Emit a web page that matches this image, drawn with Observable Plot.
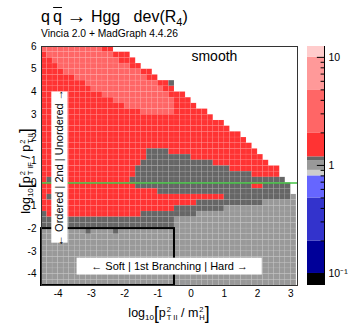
<!DOCTYPE html>
<html><head><meta charset="utf-8">
<script src="https://cdn.jsdelivr.net/npm/d3@7"></script>
<script src="https://cdn.jsdelivr.net/npm/@observablehq/plot@0.6"></script>
<style>
body{margin:0;background:#fff}
#wrap{position:relative;width:349px;height:328px;overflow:hidden;font-family:"Liberation Sans",Arial,Helvetica,sans-serif;color:#000;background:#fff}
#wrap svg{position:absolute;left:0;top:0}
.lbl{position:absolute;white-space:nowrap;line-height:1}
.ss{display:inline-flex;flex-direction:column;vertical-align:middle;font-size:0.6em;line-height:1.05;margin-left:1px;text-align:left}
.br{font-size:1.4em;vertical-align:-0.12em}
</style></head><body><div id="wrap"></div>
<script>
const FONT = '"Liberation Sans", Arial, Helvetica, sans-serif';

// histogram binning (data units)
const binX0 = -4.5, binDX = 1/6;   // x = log10(pT^2 / mH^2)
const binY0 = 6, binDY = 0.25;     // y = log10(pT_IF^2 / pT_II^2), rows from top
// colour-band code of every bin, run-length encoded, one string per y-row (top -> bottom)
const rowsRLE = [
  "P11R2.33", "R1P12R3.30", "R2P12R3.29", "R3P13R2.28", "R4P14R2.26",
  "R6P13R2.25", "R8P13R2D1.22", "R9P13R2.22", "R11P12R3.20", "R13P11R3.19",
  "R15P9R4.18", "R18P6R6.16", "R31.15", "R33.13", "R34.12",
  "R36.10", "R37.9", "R38.8", "R19D4R16.7", "R19D8R13.6",
  "R18D13R10.5", "R17D17R9.3", "R17D21R5.3", "R1D1R14D28.2", "R17D21R2D5.1",
  "R21D24.1", "R1D1R31D12G1", "R28D12G6", "R24D9G13", "D1R17D10G18",
  "D24G22", "D24G22", "G8D1G4D1G32", "G46", "G46",
  "G46", "G46", "G46", "G46", "G46", "G46", "G46"
];
// colour palette (contour levels of dev(R4))
const bandCodes = ["K", "N", "B", "b", "l", "G", "D", "R", "P", "p", "W"];
const palette   = ["#000000", "#000099", "#3333cc", "#6666ff", "#cccccc", "#999999", "#666666", "#ff3333", "#ff6666", "#ff9999", "#ffcccc"];
const levels    = [0.1, 0.2, 0.5, 0.8, 0.9, 1.1, 1.2, 2, 5, 10];
const zRange    = [0.0774, 12.6];
const cbMajor   = [0.1, 1, 10];
const cbMinor   = [0.08, 0.09, 0.2, 0.3, 0.4, 0.5, 0.6, 0.7, 0.8, 0.9, 2, 3, 4, 5, 6, 7, 8, 9];
const cbLabels  = [{v: 10, t: "10"}, {v: 1, t: "1"}, {v: 0.1, t: "10⁻¹"}];
const xTicks = [-4, -3, -2, -1, 0, 1, 2, 3];
const yTicks = [-4, -3, -2, -1, 0, 1, 2, 3, 4, 5, 6];
// annotations (data units)
const regionBox = [{x1: -4.5, x2: -0.5, y1: -4.5, y2: -2}];
const orderBox  = [{x1: -4.19, x2: -3.70, y1: -2.64, y2: 4.0, text: "← Ordered | 2nd | Unordered →"}];
const softBox   = [{x1: -3.43, x2: 2.14, y1: -4.04, y2: -3.30, text: "← Soft | 1st Branching | Hard →"}];
const tagText   = [{x: 0.7, y: 5.54, text: "smooth"}];

const cells = [];
rowsRLE.forEach((row, j) => {
  let c = 0;
  for (const m of row.matchAll(/([A-Za-z.])(\d+)/g)) {
    const code = m[1], n = +m[2];
    for (let k = 0; k < n; k++, c++) {
      if (code !== ".") cells.push({code,
        x1: binX0 + c * binDX, x2: binX0 + (c + 1) * binDX,
        y1: binY0 - (j + 1) * binDY, y2: binY0 - j * binDY});
    }
  }
});
const bounds = [zRange[0], ...levels, zRange[1]];
const bands = bandCodes.map((code, i) => ({code, lo: bounds[i], hi: bounds[i + 1]}));
const colorScale = {type: "ordinal", domain: bandCodes, range: palette};

const main = Plot.plot({
  width: 349, height: 328,
  marginLeft: 41, marginRight: 52, marginTop: 46, marginBottom: 43,
  style: {fontFamily: FONT, fontSize: "10px", background: "transparent", overflow: "visible"},
  x: {domain: [-4.5, 3.2]},
  y: {domain: [-4.5, 6]},
  color: colorScale,
  marks: [
    Plot.rect(cells, {x1: "x1", x2: "x2", y1: "y1", y2: "y2", fill: "code", stroke: "#fff", strokeOpacity: 0.1, strokeWidth: 0.6}),
    Plot.ruleY([0], {stroke: "#44c444", strokeWidth: 1.5}),
    Plot.rect(regionBox, {x1: "x1", x2: "x2", y1: "y1", y2: "y2", fill: "none", stroke: "#000", strokeWidth: 2}),
    Plot.rect(orderBox, {x1: "x1", x2: "x2", y1: "y1", y2: "y2", fill: "#fff"}),
    Plot.text(orderBox, {x: d => (d.x1 + d.x2) / 2, y: d => (d.y1 + d.y2) / 2, text: "text", rotate: -90, fontSize: 11, fill: "#000"}),
    Plot.rect(softBox, {x1: "x1", x2: "x2", y1: "y1", y2: "y2", fill: "#fff"}),
    Plot.text(softBox, {x: d => (d.x1 + d.x2) / 2, y: d => (d.y1 + d.y2) / 2, text: "text", fontSize: 11, fill: "#000"}),
    Plot.text(tagText, {x: "x", y: "y", text: "text", fontSize: 14, fill: "#000"}),
    Plot.frame({stroke: "#333"}),
    Plot.axisX(xTicks, {tickSize: 0, tickPadding: 4, tickFormat: d => String(d), label: null, fontSize: 10}),
    Plot.axisY(yTicks, {tickSize: 0, tickPadding: 5, tickFormat: d => String(d), label: null, fontSize: 10})
  ]
});

const cbar = Plot.plot({
  width: 349, height: 328,
  marginLeft: 307, marginRight: 25, marginTop: 46, marginBottom: 43,
  style: {fontFamily: FONT, fontSize: "10px", background: "transparent", overflow: "visible"},
  x: {domain: [0, 1], axis: null},
  y: {type: "log", domain: zRange, axis: null},
  color: colorScale,
  marks: [
    Plot.rect(bands, {x1: () => 0, x2: () => 1, y1: "lo", y2: "hi", fill: "code"}),
    Plot.ruleY(cbMinor, {x1: () => 0.8, x2: () => 1, stroke: "#000"}),
    Plot.ruleY(cbMajor, {x1: () => 0.58, x2: () => 1, stroke: "#000"}),
    Plot.ruleX([1], {stroke: "#000"}),
    Plot.text(cbLabels, {x: () => 1, y: "v", text: "t", dx: 4, textAnchor: "start", fontSize: 10.5, fill: "#000"})
  ]
});

const wrap = document.getElementById("wrap");
wrap.appendChild(main);
wrap.appendChild(cbar);

function addLabel(html, style) {
  const d = document.createElement("div");
  d.className = "lbl";
  d.innerHTML = html;
  Object.assign(d.style, style);
  wrap.appendChild(d);
}
addLabel('q&thinsp;<span style="text-decoration:overline">q</span> <span style="font-size:20px;vertical-align:-1px">→</span> Hgg&nbsp;&nbsp; dev(R<span style="font-size:11px;vertical-align:-4px">4</span>)',
  {left: "41px", top: "5.5px", fontSize: "16px"});
addLabel('Vincia 2.0 + MadGraph 4.4.26', {left: "41px", top: "28.5px", fontSize: "10.3px"});
addLabel('log<span style="font-size:8px;vertical-align:-3px">10</span><span class="br">[</span>p<span class="ss"><span>2</span><span>T II</span></span> / m<span class="ss"><span>2</span><span>H</span></span><span class="br">]</span>',
  {left: "169px", top: "314px", fontSize: "12.5px", transform: "translate(-50%,-50%)"});
addLabel('log<span style="font-size:8px;vertical-align:-3px">10</span><span class="br">[</span>p<span class="ss"><span>2</span><span>T IF</span></span> / p<span class="ss"><span>2</span><span>T II</span></span><span class="br">]</span>',
  {left: "27px", top: "171px", fontSize: "12.5px", transform: "translate(-50%,-50%) rotate(-90deg)"});
</script></body></html>
